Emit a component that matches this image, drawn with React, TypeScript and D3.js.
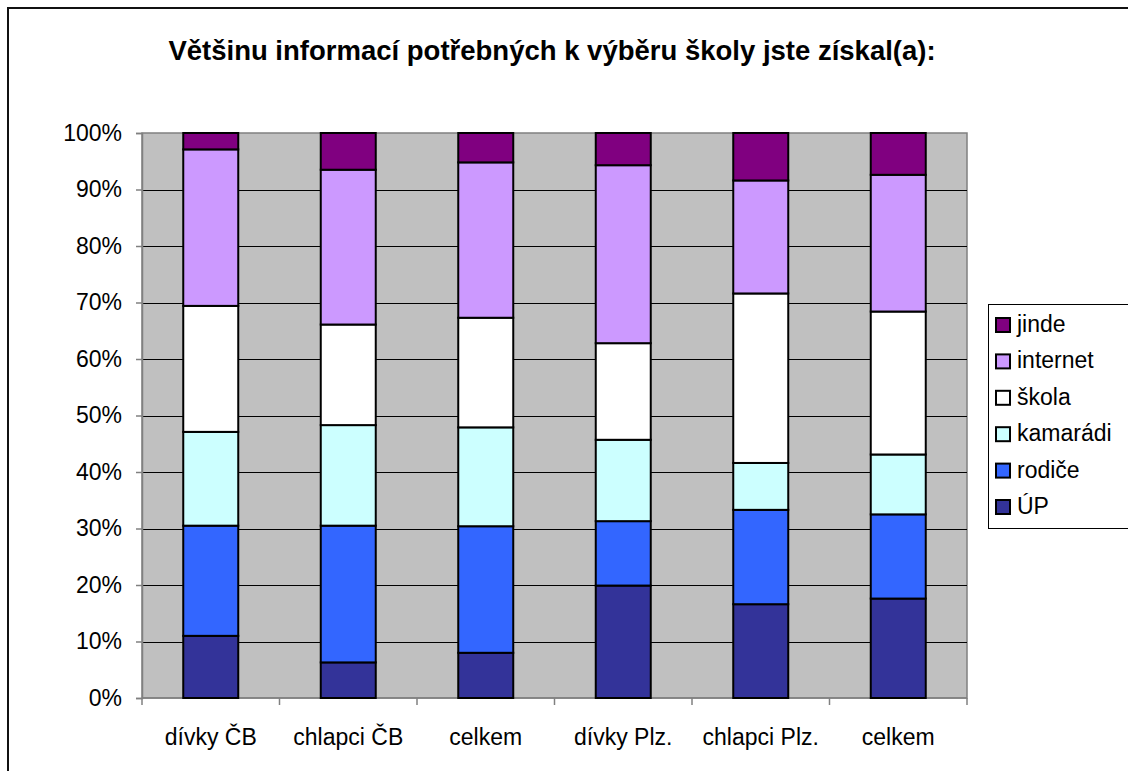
import React, { useRef, useEffect } from "react";
import * as d3 from "d3";

// kategorie a hodnoty (%)
const categories = ["dívky ČB", "chlapci ČB", "celkem", "dívky Plz.", "chlapci Plz.", "celkem"];
const seriesNames = ["ÚP", "rodiče", "kamarádi", "škola", "internet", "jinde"];
const up = [11.0, 6.3, 8.0, 19.9, 16.6, 17.6];
const rodice = [19.5, 24.2, 22.4, 11.4, 16.7, 14.9];
const kamaradi = [16.6, 17.8, 17.5, 14.4, 8.3, 10.6];
const skola = [22.3, 17.8, 19.4, 17.1, 30.0, 25.3];
const internet = [27.7, 27.4, 27.5, 31.5, 20.0, 24.2];
const jinde = [2.9, 6.5, 5.2, 5.7, 8.4, 7.4];
const colors = ["#333399", "#3366FF", "#CCFFFF", "#FFFFFF", "#CC99FF", "#800080"];
const yTicks = [0, 10, 20, 30, 40, 50, 60, 70, 80, 90, 100];
const title = "Většinu informací potřebných k výběru školy jste získal(a):";

export default function App() {
  const chartRef = useRef<HTMLDivElement>(null);

  useEffect(() => {
    const width = 1128;
    const height = 771;
    const plot = { left: 142, right: 967, top: 133, bottom: 698 };
    const font = "Arial, 'Liberation Sans', sans-serif";

    const allSeries = [up, rodice, kamaradi, skola, internet, jinde];
    const rows = categories.map((c, i) => {
      const row: any = { key: i };
      seriesNames.forEach((s, j) => (row[s] = allSeries[j][i]));
      return row;
    });
    // normalizace na 100 %
    const stacked = d3.stack().keys(seriesNames).offset(d3.stackOffsetExpand)(rows);

    const x = d3
      .scaleBand()
      .domain(categories.map((d, i) => i.toString()))
      .range([plot.left, plot.right])
      .paddingInner(0.6)
      .paddingOuter(0.3);
    const band = (plot.right - plot.left) / categories.length;

    const y = d3.scaleLinear().domain([0, 1]).range([plot.bottom, plot.top]);

    const svg = d3
      .select(chartRef.current)
      .html("")
      .append("svg")
      .attr("width", width)
      .attr("height", height)
      .style("display", "block")
      .style("font-family", font);

    svg.append("rect").attr("width", width).attr("height", height).attr("fill", "#fff");

    // rámeček (jen horní a levá hrana jsou vidět)
    svg
      .append("path")
      .attr("d", `M8,${height + 5} L8,8 L${width + 5},8`)
      .attr("fill", "none")
      .attr("stroke", "#111")
      .attr("stroke-width", 2);

    svg
      .append("text")
      .attr("x", 552)
      .attr("y", 60)
      .attr("text-anchor", "middle")
      .attr("font-size", 27.5)
      .attr("font-weight", "bold")
      .text(title);

    // plocha grafu
    svg
      .append("rect")
      .attr("x", plot.left)
      .attr("y", plot.top)
      .attr("width", plot.right - plot.left)
      .attr("height", plot.bottom - plot.top)
      .attr("fill", "#C0C0C0")
      .attr("stroke", "#808080")
      .attr("stroke-width", 1.5);

    svg
      .append("g")
      .selectAll("line")
      .data(yTicks.slice(1, -1))
      .enter()
      .append("line")
      .attr("x1", plot.left)
      .attr("x2", plot.right)
      .attr("y1", (d) => Math.round(y(d / 100)) + 0.5)
      .attr("y2", (d) => Math.round(y(d / 100)) + 0.5)
      .attr("stroke", "#000")
      .attr("stroke-width", 1);

    // osa y
    const yAxis = svg
      .append("g")
      .attr("transform", `translate(${plot.left},0)`)
      .call(
        d3
          .axisLeft(y)
          .tickValues(yTicks.map((d) => d / 100))
          .tickFormat((d) => `${Math.round(+d * 100)}%`)
          .tickSize(6)
          .tickPadding(14)
      );
    yAxis.select(".domain").attr("stroke", "#808080").attr("stroke-width", 1.5);
    yAxis.selectAll(".tick line").attr("stroke", "#808080").attr("stroke-width", 1.5);
    yAxis
      .selectAll(".tick text")
      .attr("font-size", 23)
      .attr("font-family", font)
      .attr("fill", "#000");

    // osa x
    const xg = svg.append("g");
    xg.append("line")
      .attr("x1", plot.left)
      .attr("x2", plot.right)
      .attr("y1", plot.bottom)
      .attr("y2", plot.bottom)
      .attr("stroke", "#808080")
      .attr("stroke-width", 1.5);
    xg.selectAll(".tk")
      .data(d3.range(categories.length + 1))
      .enter()
      .append("line")
      .attr("x1", (i) => plot.left + i * band)
      .attr("x2", (i) => plot.left + i * band)
      .attr("y1", plot.bottom)
      .attr("y2", plot.bottom + 7)
      .attr("stroke", "#808080")
      .attr("stroke-width", 1.5);
    xg.selectAll("text")
      .data(categories)
      .enter()
      .append("text")
      .attr("x", (d, i) => x(i.toString())! + x.bandwidth() / 2)
      .attr("y", 745)
      .attr("text-anchor", "middle")
      .attr("font-size", 23)
      .text((d) => d);

    // sloupce
    svg
      .append("g")
      .selectAll("g")
      .data(stacked)
      .enter()
      .append("g")
      .attr("fill", (d, i) => colors[i])
      .selectAll("rect")
      .data((d) => d)
      .enter()
      .append("rect")
      .attr("x", (d: any) => x(d.data.key.toString())!)
      .attr("y", (d) => y(d[1]))
      .attr("width", x.bandwidth())
      .attr("height", (d) => y(d[0]) - y(d[1]))
      .attr("stroke", "#000")
      .attr("stroke-width", 2);

    // legenda
    const lg = svg.append("g");
    lg.append("rect")
      .attr("x", 988.5)
      .attr("y", 304.5)
      .attr("width", 160)
      .attr("height", 224)
      .attr("fill", "#fff")
      .attr("stroke", "#000")
      .attr("stroke-width", 1);
    const legendItems = seriesNames.map((s, i) => ({ s, c: colors[i] })).reverse();
    const items = lg
      .selectAll(".li")
      .data(legendItems)
      .enter()
      .append("g")
      .attr("transform", (d, i) => `translate(996,${318 + i * 36.4})`);
    items
      .append("rect")
      .attr("x", 0)
      .attr("y", 0)
      .attr("width", 14)
      .attr("height", 14)
      .attr("fill", (d) => d.c)
      .attr("stroke", "#000")
      .attr("stroke-width", 2);
    items
      .append("text")
      .attr("x", 21)
      .attr("y", 14)
      .attr("font-size", 23)
      .text((d) => d.s);
  }, []);

  return (
    <div
      ref={chartRef}
      style={{ position: "absolute", left: 0, top: 0, width: 1128, height: 771, overflow: "hidden" }}
    ></div>
  );
}
